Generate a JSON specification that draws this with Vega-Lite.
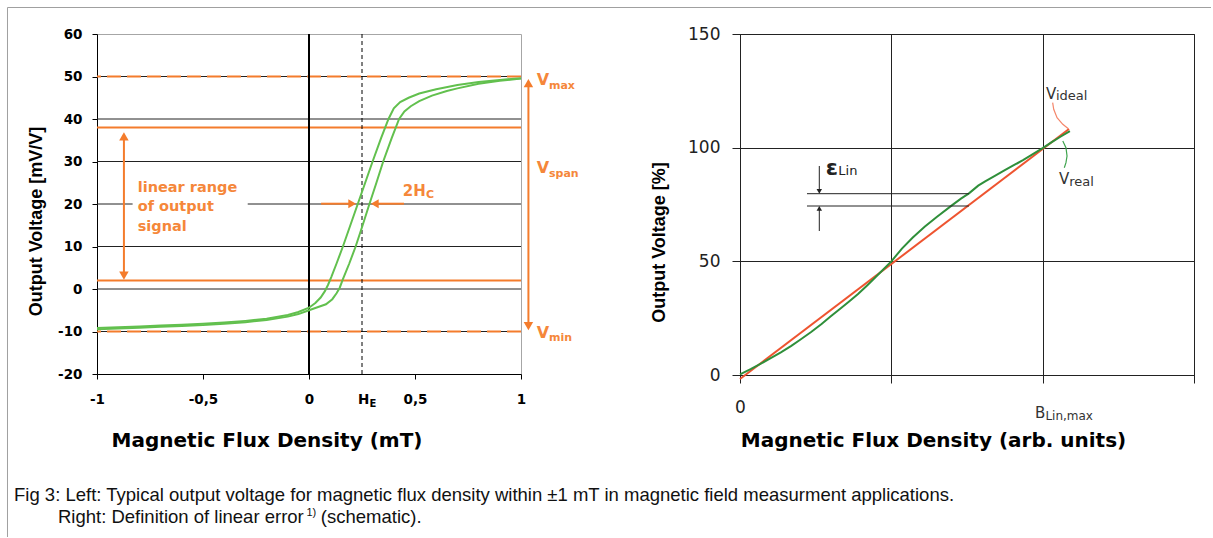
{
  "$schema": "https://vega.github.io/schema/vega-lite/v6.json",
  "background": "white",
  "autosize": {"type": "pad"},
  "padding": {"left": 6, "top": 6, "right": 0, "bottom": 0},
  "bounds": "flush",
  "spacing": 219,
  "config": {"view": {"stroke": null}},
  "datasets": {
    "frame": [
      {"x": -1.4222, "x2": -1.4222, "y": 66.235, "y2": -58.35},
      {"x": -1.4222, "x2": 4.2547, "y": 66.235, "y2": 66.235}
    ],
    "lgrid": [
      {"x": -1, "x2": 1, "y": -10, "y2": -10},
      {"x": -1, "x2": 1, "y": 0, "y2": 0},
      {"x": -1, "x2": 1, "y": 10, "y2": 10},
      {"x": -1, "x2": -0.832, "y": 20, "y2": 20},
      {"x": -0.289, "x2": 1, "y": 20, "y2": 20},
      {"x": -1, "x2": 1, "y": 30, "y2": 30},
      {"x": -1, "x2": 1, "y": 40, "y2": 40},
      {"x": -1, "x2": 1, "y": 50, "y2": 50}
    ],
    "lsolid": [{"y": 38}, {"y": 2}],
    "ldash": [{"y": 50}, {"y": -10}],
    "lzero": [{"x": 0}],
    "lhe": [{"x": 0.25}],
    "hyst": [
      {"b": "down", "x": -1, "y": -9.2}, {"b": "down", "x": -0.9, "y": -9.0}, {"b": "down", "x": -0.8, "y": -8.8},
      {"b": "down", "x": -0.7, "y": -8.6}, {"b": "down", "x": -0.6, "y": -8.4}, {"b": "down", "x": -0.5, "y": -8.2},
      {"b": "down", "x": -0.4, "y": -7.9}, {"b": "down", "x": -0.3, "y": -7.5}, {"b": "down", "x": -0.2, "y": -7.0},
      {"b": "down", "x": -0.1, "y": -6.1}, {"b": "down", "x": -0.05, "y": -5.4}, {"b": "down", "x": 0, "y": -4.4},
      {"b": "down", "x": 0.03, "y": -3.3}, {"b": "down", "x": 0.055, "y": -2.0}, {"b": "down", "x": 0.075, "y": -0.5},
      {"b": "down", "x": 0.09, "y": 1.0}, {"b": "down", "x": 0.105, "y": 2.8}, {"b": "down", "x": 0.13, "y": 6.0},
      {"b": "down", "x": 0.16, "y": 10}, {"b": "down", "x": 0.195, "y": 15}, {"b": "down", "x": 0.23, "y": 20},
      {"b": "down", "x": 0.265, "y": 25}, {"b": "down", "x": 0.3, "y": 30}, {"b": "down", "x": 0.34, "y": 35.5},
      {"b": "down", "x": 0.375, "y": 40}, {"b": "down", "x": 0.4, "y": 42.5}, {"b": "down", "x": 0.43, "y": 44},
      {"b": "down", "x": 0.47, "y": 45}, {"b": "down", "x": 0.52, "y": 46}, {"b": "down", "x": 0.6, "y": 47},
      {"b": "down", "x": 0.7, "y": 48}, {"b": "down", "x": 0.8, "y": 48.7}, {"b": "down", "x": 0.9, "y": 49.2},
      {"b": "down", "x": 1, "y": 49.6},
      {"b": "up", "x": -1, "y": -9.5}, {"b": "up", "x": -0.9, "y": -9.3}, {"b": "up", "x": -0.8, "y": -9.1},
      {"b": "up", "x": -0.7, "y": -8.9}, {"b": "up", "x": -0.6, "y": -8.7}, {"b": "up", "x": -0.5, "y": -8.5},
      {"b": "up", "x": -0.4, "y": -8.2}, {"b": "up", "x": -0.3, "y": -7.8}, {"b": "up", "x": -0.2, "y": -7.3},
      {"b": "up", "x": -0.1, "y": -6.5}, {"b": "up", "x": -0.05, "y": -5.9}, {"b": "up", "x": 0, "y": -5.0},
      {"b": "up", "x": 0.04, "y": -4.3}, {"b": "up", "x": 0.08, "y": -3.6}, {"b": "up", "x": 0.11, "y": -2.4},
      {"b": "up", "x": 0.13, "y": -1.0}, {"b": "up", "x": 0.145, "y": 0.3}, {"b": "up", "x": 0.16, "y": 2.3},
      {"b": "up", "x": 0.19, "y": 6}, {"b": "up", "x": 0.22, "y": 10}, {"b": "up", "x": 0.253, "y": 15},
      {"b": "up", "x": 0.285, "y": 20}, {"b": "up", "x": 0.318, "y": 25}, {"b": "up", "x": 0.35, "y": 30},
      {"b": "up", "x": 0.39, "y": 35.5}, {"b": "up", "x": 0.425, "y": 40}, {"b": "up", "x": 0.45, "y": 41.8},
      {"b": "up", "x": 0.48, "y": 43}, {"b": "up", "x": 0.52, "y": 44.2}, {"b": "up", "x": 0.58, "y": 45.5},
      {"b": "up", "x": 0.65, "y": 46.6}, {"b": "up", "x": 0.7, "y": 47.2}, {"b": "up", "x": 0.8, "y": 48.3},
      {"b": "up", "x": 0.9, "y": 49.0}, {"b": "up", "x": 1, "y": 49.5}
    ],
    "larr": [
      {"x": -0.873, "x2": -0.873, "y": 3.5, "y2": 35.5},
      {"x": 1.035, "x2": 1.035, "y": -8.3, "y2": 48.0},
      {"x": 0.057, "x2": 0.205, "y": 20.07, "y2": 20.07},
      {"x": 0.31, "x2": 0.448, "y": 20.07, "y2": 20.07}
    ],
    "lhead": [
      {"x": -0.873, "y": 35.93, "d": "triangle-up", "s": 90},
      {"x": -0.873, "y": 3.17, "d": "triangle-down", "s": 90},
      {"x": 1.035, "y": 48.43, "d": "triangle-up", "s": 90},
      {"x": 1.035, "y": -8.73, "d": "triangle-down", "s": 90},
      {"x": 0.2037, "y": 20.07, "d": "triangle-right", "s": 80},
      {"x": 0.3103, "y": 20.07, "d": "triangle-left", "s": 80}
    ],
    "ltxt": [
      {"t": "linear range", "x": -0.808, "y": 22.89, "s": 14.5, "c": "#F5873A"},
      {"t": "of output", "x": -0.808, "y": 18.28, "s": 14.5, "c": "#F5873A"},
      {"t": "signal", "x": -0.808, "y": 13.67, "s": 14.5, "c": "#F5873A"},
      {"t": "2H", "x": 0.442, "y": 22.0, "s": 15, "c": "#F5873A"},
      {"t": "C", "x": 0.552, "y": 21.41, "s": 11, "c": "#F5873A"},
      {"t": "V", "x": 1.0745, "y": 47.95, "s": 16, "c": "#F5873A"},
      {"t": "max", "x": 1.132, "y": 47.06, "s": 11, "c": "#F5873A"},
      {"t": "V", "x": 1.0745, "y": 27.2, "s": 16, "c": "#F5873A"},
      {"t": "span", "x": 1.132, "y": 26.24, "s": 11, "c": "#F5873A"},
      {"t": "V", "x": 1.0745, "y": -11.46, "s": 16, "c": "#F5873A"},
      {"t": "min", "x": 1.132, "y": -12.35, "s": 11, "c": "#F5873A"},
      {"t": "H", "x": 0.231, "y": -27.13, "s": 13.5, "c": "#000000"},
      {"t": "E", "x": 0.285, "y": -27.88, "s": 10, "c": "#000000"}
    ],
    "cap": [
      {"t": "Fig 3: Left: Typical output voltage for magnetic flux density within ±1 mT in magnetic field measurment applications.", "x": -1.3915, "y": -49.88, "s": 18.5},
      {"t": "Right: Definition of linear error", "x": -1.184, "y": -54.99, "s": 18.5},
      {"t": "1)", "x": -0.012, "y": -53.41, "s": 11},
      {"t": "(schematic).", "x": 0.056, "y": -54.99, "s": 18.5}
    ],
    "ideal": [{"x": 0, "y": -1.76}, {"x": 2.174, "y": 108.2}],
    "real": [
      {"x": 0, "y": 0.3}, {"x": 0.07, "y": 2.6}, {"x": 0.138, "y": 5.0}, {"x": 0.2, "y": 7.3},
      {"x": 0.27, "y": 10.0}, {"x": 0.339, "y": 12.8}, {"x": 0.4, "y": 15.6}, {"x": 0.47, "y": 18.9},
      {"x": 0.539, "y": 22.4}, {"x": 0.6, "y": 25.8}, {"x": 0.66, "y": 29.0}, {"x": 0.715, "y": 32.0},
      {"x": 0.78, "y": 35.6}, {"x": 0.84, "y": 39.4}, {"x": 0.9, "y": 43.3}, {"x": 0.95, "y": 46.6},
      {"x": 1.0, "y": 50.0}, {"x": 1.07, "y": 55.6}, {"x": 1.14, "y": 60.4}, {"x": 1.22, "y": 65.2},
      {"x": 1.3, "y": 69.5}, {"x": 1.4, "y": 74.6}, {"x": 1.46, "y": 77.6}, {"x": 1.513, "y": 79.9},
      {"x": 1.574, "y": 83.3}, {"x": 1.62, "y": 85.2}, {"x": 1.684, "y": 87.6}, {"x": 1.75, "y": 90.1},
      {"x": 1.815, "y": 92.5}, {"x": 1.87, "y": 94.5}, {"x": 1.927, "y": 96.8}, {"x": 2.0, "y": 99.8},
      {"x": 2.06, "y": 102.4}, {"x": 2.12, "y": 104.9}, {"x": 2.18, "y": 107.3}
    ],
    "reps": [
      {"x": 0.4427, "x2": 1.513, "y": 79.75, "y2": 79.75},
      {"x": 0.4427, "x2": 1.513, "y": 74.34, "y2": 74.34},
      {"x": 0.524, "x2": 0.524, "y": 91.94, "y2": 81.3},
      {"x": 0.524, "x2": 0.524, "y": 63.34, "y2": 72.8}
    ],
    "rhead": [
      {"x": 0.524, "y": 80.79, "d": "triangle-down", "s": 30},
      {"x": 0.524, "y": 73.3, "d": "triangle-up", "s": 30}
    ],
    "lead": [
      {"k": "r", "i": 0, "x": 2.066, "y": 119.78, "c": "#F4866A"},
      {"k": "r", "i": 1, "x": 2.073, "y": 116.88, "c": "#F4866A"},
      {"k": "r", "i": 2, "x": 2.095, "y": 113.19, "c": "#F4866A"},
      {"k": "r", "i": 3, "x": 2.133, "y": 110.28, "c": "#F4866A"},
      {"k": "r", "i": 4, "x": 2.17, "y": 108.35, "c": "#F4866A"},
      {"k": "g", "i": 0, "x": 2.133, "y": 102.93, "c": "#3FA44E"},
      {"k": "g", "i": 1, "x": 2.154, "y": 99.99, "c": "#3FA44E"},
      {"k": "g", "i": 2, "x": 2.161, "y": 96.34, "c": "#3FA44E"},
      {"k": "g", "i": 3, "x": 2.154, "y": 93.39, "c": "#3FA44E"},
      {"k": "g", "i": 4, "x": 2.143, "y": 91.19, "c": "#3FA44E"}
    ],
    "rtxt": [
      {"t": "V", "x": 2.022, "y": 121.54, "s": 15, "c": "#333333"},
      {"t": "ideal", "x": 2.088, "y": 120.96, "s": 13, "c": "#333333"},
      {"t": "V", "x": 2.108, "y": 83.89, "s": 15, "c": "#333333"},
      {"t": "real", "x": 2.176, "y": 83.14, "s": 13, "c": "#333333"},
      {"t": "Lin", "x": 0.65, "y": 87.97, "s": 13, "c": "#222222"},
      {"t": "B", "x": 1.949, "y": -18.7, "s": 15, "c": "#333333"},
      {"t": "Lin,max", "x": 2.018, "y": -19.8, "s": 12, "c": "#333333"}
    ],
    "reps_lbl": [
      {"t": "ε", "x": 0.566, "y": 87.97, "s": 22, "c": "#222222"}
    ]
  },
  "hconcat": [
    {
      "width": 424,
      "height": 340,
      "view": {"stroke": "#a6a6a6", "strokeWidth": 1},
      "layer": [
        {
          "data": {"name": "frame"},
          "mark": {"type": "rule", "color": "#a0a0a0", "strokeWidth": 1},
          "encoding": {
            "x": {
              "field": "x", "type": "quantitative",
              "scale": {"domain": [-1, 1], "nice": false, "zero": false},
              "axis": {
                "values": [-1, -0.5, 0, 0.5, 1],
                "labelExpr": "replace(toString(datum.value), '.', ',')",
                "grid": false,
                "domainColor": "#000000", "tickColor": "#000000", "tickSize": 5,
                "labelFont": "DejaVu Sans", "labelFontWeight": "bold", "labelFontSize": 13.5, "labelColor": "#000000",
                "labelPadding": 13, "labelFlush": false, "labelOverlap": false,
                "title": "Magnetic Flux Density (mT)",
                "titleFont": "DejaVu Sans", "titleFontSize": 20, "titleFontWeight": "bold", "titleColor": "#000000",
                "titleX": 169.5, "titleY": 72, "titleBaseline": "alphabetic", "titleAlign": "center"
              }
            },
            "x2": {"field": "x2"},
            "y": {
              "field": "y", "type": "quantitative",
              "scale": {"domain": [-20, 60], "nice": false, "zero": false},
              "axis": {
                "values": [-20, -10, 0, 10, 20, 30, 40, 50, 60],
                "labelExpr": "toString(datum.value)",
                "grid": false,
                "domainColor": "#000000", "tickColor": "#000000", "tickSize": 5,
                "labelFont": "DejaVu Sans", "labelFontWeight": "bold", "labelFontSize": 13.5, "labelColor": "#000000",
                "labelPadding": 10, "labelOverlap": false,
                "title": "Output Voltage [mV/V]",
                "titleFont": "Liberation Sans", "titleFontSize": 18, "titleFontWeight": "bold", "titleColor": "#000000",
                "titleX": -56, "titleY": 187, "titleBaseline": "alphabetic", "titleAlign": "center"
              }
            },
            "y2": {"field": "y2"}
          }
        },
        {
          "data": {"name": "lgrid"},
          "mark": {"type": "rule", "color": "#222222", "strokeWidth": 1},
          "encoding": {
            "x": {"field": "x", "type": "quantitative"},
            "x2": {"field": "x2"},
            "y": {"field": "y", "type": "quantitative"}
          }
        },
        {
          "data": {"name": "lsolid"},
          "mark": {"type": "rule", "color": "#F47C2C", "strokeWidth": 2},
          "encoding": {"y": {"field": "y", "type": "quantitative"}}
        },
        {
          "data": {"name": "ldash"},
          "mark": {"type": "rule", "color": "#F47C2C", "strokeWidth": 2, "strokeDash": [14, 6]},
          "encoding": {"y": {"field": "y", "type": "quantitative"}}
        },
        {
          "data": {"name": "lzero"},
          "mark": {"type": "rule", "color": "#000000", "strokeWidth": 2},
          "encoding": {"x": {"field": "x", "type": "quantitative"}}
        },
        {
          "data": {"name": "lhe"},
          "mark": {"type": "rule", "color": "#000000", "strokeWidth": 1, "strokeDash": [4, 3]},
          "encoding": {"x": {"field": "x", "type": "quantitative"}}
        },
        {
          "data": {"name": "hyst"},
          "mark": {"type": "line", "color": "#62C04E", "strokeWidth": 2},
          "encoding": {
            "x": {"field": "x", "type": "quantitative"},
            "y": {"field": "y", "type": "quantitative"},
            "detail": {"field": "b", "type": "nominal"}
          }
        },
        {
          "data": {"name": "larr"},
          "mark": {"type": "rule", "color": "#F47C2C", "strokeWidth": 2},
          "encoding": {
            "x": {"field": "x", "type": "quantitative"},
            "x2": {"field": "x2"},
            "y": {"field": "y", "type": "quantitative"},
            "y2": {"field": "y2"}
          }
        },
        {
          "data": {"name": "lhead"},
          "mark": {"type": "point", "filled": true, "opacity": 1, "strokeWidth": 0, "color": "#F47C2C"},
          "encoding": {
            "x": {"field": "x", "type": "quantitative"},
            "y": {"field": "y", "type": "quantitative"},
            "shape": {"field": "d", "type": "nominal", "scale": null},
            "size": {"field": "s", "type": "quantitative", "scale": null}
          }
        },
        {
          "data": {"name": "ltxt"},
          "mark": {"type": "text", "font": "DejaVu Sans", "fontWeight": "bold", "align": "left", "baseline": "alphabetic"},
          "encoding": {
            "x": {"field": "x", "type": "quantitative"},
            "y": {"field": "y", "type": "quantitative"},
            "text": {"field": "t"},
            "size": {"field": "s", "type": "quantitative", "scale": null},
            "color": {"field": "c", "type": "nominal", "scale": null}
          }
        },
        {
          "data": {"name": "cap"},
          "mark": {"type": "text", "font": "Liberation Sans", "align": "left", "baseline": "alphabetic", "color": "#111111"},
          "encoding": {
            "x": {"field": "x", "type": "quantitative"},
            "y": {"field": "y", "type": "quantitative"},
            "text": {"field": "t"},
            "size": {"field": "s", "type": "quantitative", "scale": null}
          }
        }
      ]
    },
    {
      "width": 454,
      "height": 341,
      "view": {"stroke": "#333333", "strokeWidth": 1},
      "layer": [
        {
          "data": {"name": "ideal"},
          "mark": {"type": "line", "color": "#EE5430", "strokeWidth": 2},
          "encoding": {
            "x": {
              "field": "x", "type": "quantitative",
              "scale": {"domain": [0, 3], "nice": false, "zero": false},
              "axis": {
                "values": [0, 1, 2, 3],
                "labelExpr": "datum.value == 0 ? '0' : ''",
                "grid": true, "gridColor": "#222222", "gridWidth": 1,
                "domainColor": "#222222", "tickColor": "#222222", "tickSize": 8,
                "labelFont": "DejaVu Sans", "labelFontSize": 17, "labelColor": "#222222",
                "labelPadding": 16, "labelFlush": false, "labelOverlap": false,
                "title": "Magnetic Flux Density (arb. units)",
                "titleFont": "DejaVu Sans", "titleFontSize": 20, "titleFontWeight": "bold", "titleColor": "#000000",
                "titleX": 193, "titleY": 71, "titleBaseline": "alphabetic", "titleAlign": "center"
              }
            },
            "y": {
              "field": "y", "type": "quantitative",
              "scale": {"domain": [0, 150], "nice": false, "zero": false},
              "axis": {
                "values": [0, 50, 100, 150],
                "grid": true, "gridColor": "#222222", "gridWidth": 1,
                "domainColor": "#222222", "tickColor": "#222222", "tickSize": 8,
                "labelFont": "DejaVu Sans", "labelFontSize": 17, "labelColor": "#222222",
                "labelPadding": 12, "labelOverlap": false,
                "title": "Output Voltage [%]",
                "titleFont": "Liberation Sans", "titleFontSize": 18, "titleFontWeight": "bold", "titleColor": "#000000",
                "titleX": -76, "titleY": 208, "titleBaseline": "alphabetic", "titleAlign": "center"
              }
            }
          }
        },
        {
          "data": {"name": "real"},
          "mark": {"type": "line", "color": "#2F8F3A", "strokeWidth": 2},
          "encoding": {
            "x": {"field": "x", "type": "quantitative"},
            "y": {"field": "y", "type": "quantitative"}
          }
        },
        {
          "data": {"name": "reps"},
          "mark": {"type": "rule", "color": "#222222", "strokeWidth": 1},
          "encoding": {
            "x": {"field": "x", "type": "quantitative"},
            "x2": {"field": "x2"},
            "y": {"field": "y", "type": "quantitative"},
            "y2": {"field": "y2"}
          }
        },
        {
          "data": {"name": "rhead"},
          "mark": {"type": "point", "filled": true, "opacity": 1, "strokeWidth": 0, "color": "#222222"},
          "encoding": {
            "x": {"field": "x", "type": "quantitative"},
            "y": {"field": "y", "type": "quantitative"},
            "shape": {"field": "d", "type": "nominal", "scale": null},
            "size": {"field": "s", "type": "quantitative", "scale": null}
          }
        },
        {
          "data": {"name": "lead"},
          "mark": {"type": "line", "strokeWidth": 1.2},
          "encoding": {
            "x": {"field": "x", "type": "quantitative"},
            "y": {"field": "y", "type": "quantitative"},
            "color": {"field": "c", "type": "nominal", "scale": null},
            "detail": {"field": "k", "type": "nominal"},
            "order": {"field": "i", "type": "quantitative"}
          }
        },
        {
          "data": {"name": "rtxt"},
          "mark": {"type": "text", "font": "DejaVu Sans", "align": "left", "baseline": "alphabetic"},
          "encoding": {
            "x": {"field": "x", "type": "quantitative"},
            "y": {"field": "y", "type": "quantitative"},
            "text": {"field": "t"},
            "size": {"field": "s", "type": "quantitative", "scale": null},
            "color": {"field": "c", "type": "nominal", "scale": null}
          }
        },
        {
          "data": {"name": "reps_lbl"},
          "mark": {"type": "text", "font": "DejaVu Sans", "fontWeight": "bold", "align": "left", "baseline": "alphabetic"},
          "encoding": {
            "x": {"field": "x", "type": "quantitative"},
            "y": {"field": "y", "type": "quantitative"},
            "text": {"field": "t"},
            "size": {"field": "s", "type": "quantitative", "scale": null},
            "color": {"field": "c", "type": "nominal", "scale": null}
          }
        }
      ]
    }
  ]
}
